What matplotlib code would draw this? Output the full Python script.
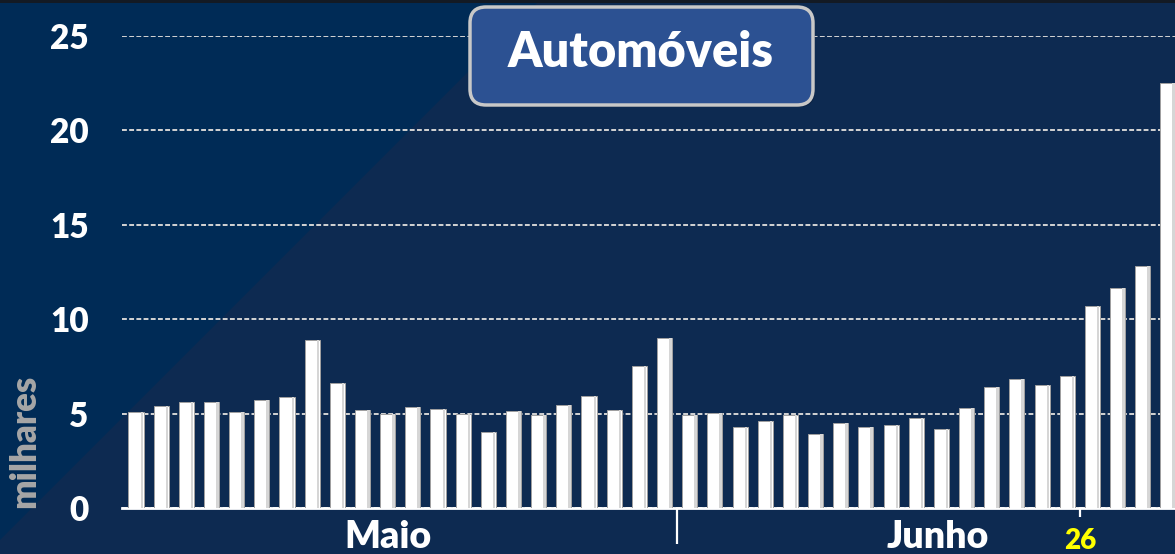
import numpy as np
import matplotlib.pyplot as plt
from matplotlib.patches import FancyBboxPatch, Polygon, Rectangle
from matplotlib.transforms import IdentityTransform

plt.rcParams['font.family'] = ['Lato', 'DejaVu Sans']

# daily sales, thousands (Maio: 22 bars, Junho: 20 bars)
valores = [5.1, 5.4, 5.6, 5.6, 5.1, 5.7, 5.9, 8.9, 6.6, 5.2, 5.0,
           5.35, 5.25, 5.0, 4.0, 5.15, 4.95, 5.45, 5.95, 5.2, 7.5, 9.0,
           4.9, 5.05, 4.3, 4.6, 4.9, 3.9, 4.5, 4.3, 4.4, 4.75, 4.2,
           5.3, 6.4, 6.85, 6.5, 7.0, 10.7, 11.65, 12.8, 22.5]
yticks = [0, 5, 10, 15, 20, 25]
meses = ["Maio", "Junho"]
meses_pos = [10.0, 31.85]
divisoria = 21.5
dia_pos = 37.5
dia_label = "26"
titulo = "Automóveis"

W, H = 1175, 554
fig = plt.figure(figsize=(W / 100, H / 100), dpi=100)
fig.patch.set_facecolor('#0d2a51')

# background: lighter triangle top-left, dark strip on top
fig.add_artist(Polygon([(0, H), (0, 14), (540, H)], closed=True,
                       transform=IdentityTransform(), fc='#002b56', ec='none', zorder=-10))
fig.add_artist(Rectangle((0, H - 3), W, 3, transform=IdentityTransform(),
                         fc='#131a24', ec='none', zorder=-9))

ax = fig.add_axes([122 / W, 46 / H, 1053 / W, 472 / H])
ax.set_facecolor('none')

x = np.arange(len(valores))
ax.bar(x, valores, width=0.6, color='white', edgecolor='#a0a0a0', linewidth=0.7, zorder=3)
ax.bar(x + 0.23, valores, width=0.1, color='#d6d6d6', linewidth=0, zorder=4)

ax.set_xlim(-0.556, 41.28)
ax.set_ylim(0, 25)

ax.set_yticks(yticks)
ax.set_yticklabels([str(v) for v in yticks], fontsize=24, fontweight='heavy', color='white')
ax.yaxis.grid(True, color='#d4d4d4', linestyle=(0, (2.5, 1.2)), linewidth=1.4)
ax.set_axisbelow(True)
ax.tick_params(axis='y', length=0, pad=24)

ax.set_xticks([divisoria])
ax.set_xticklabels([''])
ax.set_xticks([dia_pos], minor=True)
ax.set_xticklabels([''], minor=True)
ax.tick_params(axis='x', which='major', length=26, width=1.6, color='white')
ax.tick_params(axis='x', which='minor', length=6.5, width=1.6, color='white')

for s in ['left', 'right', 'top']:
    ax.spines[s].set_visible(False)
ax.spines['bottom'].set_color('white')
ax.spines['bottom'].set_linewidth(2)

for m, p in zip(meses, meses_pos):
    ax.text(p, -2.12, m, ha='center', va='baseline', fontsize=27,
            fontweight='heavy', color='white', clip_on=False)
ax.text(dia_pos, -2.17, dia_label, ha='center', va='baseline', fontsize=20,
        fontweight='heavy', color='#ffff00', clip_on=False)

fig.text(25 / W, 0.203, 'milhares', rotation=90, ha='center', va='center',
         fontsize=25, fontweight='heavy', color='#a6a6a6')

# title box
fig.add_artist(FancyBboxPatch((472, 447), 343, 98, boxstyle='round,pad=0,rounding_size=16',
                              transform=IdentityTransform(), fc='#0a1a33', ec='none', alpha=0.5, zorder=9))
fig.add_artist(FancyBboxPatch((470, 449), 343, 98, boxstyle='round,pad=0,rounding_size=16',
                              transform=IdentityTransform(), fc='#2c5192', ec='#c8c8c8', lw=2.5, zorder=10))
fig.text(641 / W, 487 / H, titulo, ha='center', va='baseline', fontsize=35,
         fontweight='heavy', color='white', zorder=11)

fig.savefig('out.png', dpi=100, facecolor=fig.get_facecolor())
